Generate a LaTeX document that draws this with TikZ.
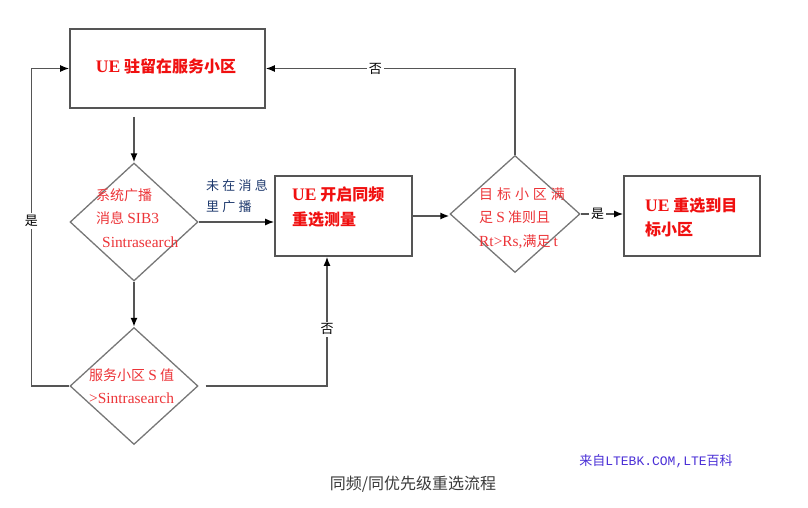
\documentclass[tikz,border=0pt]{standalone}
\usepackage{fontspec}
\setmainfont{Liberation Serif}[Scale=1.1]
\newfontfamily\cjk{Noto Sans CJK SC}
\newfontfamily\halfmono{Liberation Mono}
\usetikzlibrary{shapes.geometric,arrows.meta,positioning,calc}
\definecolor{ink}{HTML}{555555}
\definecolor{edge}{HTML}{777777}
\definecolor{hot}{HTML}{F01010}
\definecolor{warm}{HTML}{EC3438}
\definecolor{navy}{HTML}{1F3A6E}
\definecolor{mark}{HTML}{4A2FD6}
\definecolor{cap}{HTML}{3A3A3A}

\begin{document}
\begin{tikzpicture}[
  x=1pt, y=-1pt, font=\cjk,
  proc/.style={rectangle, draw=ink, line width=1.6pt, inner sep=0pt},
  decide/.style={diamond, draw=edge, line width=1.3pt, inner sep=0pt},
  boxtxt/.style={text=hot, font=\cjk\bfseries\fontsize{16}{25}\selectfont, align=left, inner sep=0pt},
  dectxt/.style={text=warm, font=\cjk\fontsize{14}{23.5}\selectfont, align=left, inner sep=0pt},
  flow/.style={-{Latex[length=9pt,width=7pt,color=black]}, draw=ink, line width=1.5pt},
  lbl/.style={font=\cjk\fontsize{13}{16}\selectfont, fill=white, inner sep=2pt, text=black},
]
\useasboundingbox (0,0) rectangle (808,508);

% ---- process boxes ----
\node[proc, minimum width=195pt, minimum height=79pt] (camp) at (167.5,68.5) {};
\node[proc, minimum width=137pt, minimum height=80pt] (meas) at (343.5,216) {};
\node[proc, minimum width=136pt, minimum height=80pt] (target) at (692,216) {};

% ---- decisions (diamonds) ----
\node[decide, minimum width=128pt, minimum height=118pt] (sib) at (134,222) {};
\node[decide, minimum width=128pt, minimum height=117pt] (srv) at (134,386) {};
\node[decide, minimum width=130pt, minimum height=117pt] (crit) at (515,214) {};

% ---- texts ----
\node[boxtxt] (camptxt) at (166,66) {{\rmfamily UE} 驻留在服务小区};
\node[boxtxt, anchor=west] (meastxt) at (292,207) {{\rmfamily UE} 开启同频\\重选测量};
\node[boxtxt, anchor=west, font=\cjk\bfseries\fontsize{16}{24}\selectfont] (targettxt) at (645,217) {{\rmfamily UE} 重选到目\\标小区};
\node[dectxt, anchor=west] (sibtxt) at (96,218) {系统广播\\消息 {\rmfamily SIB3}\\\hspace*{6pt}{\rmfamily Sintrasearch}};
\node[dectxt, anchor=west] (srvtxt) at (89,386) {服务小区 {\rmfamily S} 值\\{\rmfamily >Sintrasearch}};
\node[dectxt, anchor=west] (crittxt) at (479,218) {{\addfontfeatures{LetterSpace=28}目标小区满}\\足 {\rmfamily S} 准则且\\{\rmfamily Rt>Rs,}满足 {\rmfamily t}};

% ---- connectors ----
\draw[flow, shorten <=8pt] (camp.south -| sib.north) -- (sib.north);
\draw[flow] (sib.east) -- node[anchor=south west, xshift=-31pt, yshift=9pt, inner sep=0pt, align=left, text=navy,
  font=\cjk\fontsize{13}{21}\selectfont\addfontfeatures{LetterSpace=25}] (notbc) {未在消息\\里广播} (sib.east -| meas.west);
\draw[flow] (meas.east) -- (meas.east -| crit.west);
\draw[flow] (crit.east) -- node[lbl, pos=0.4] (yes2) {是} (crit.east -| target.west);
\draw[flow] (crit.north) |- node[lbl, pos=0.78] (no1) {否} (camp.east);
\draw[flow] (sib.south) -- (srv.north);
\draw[flow] (srv.west) -- ++(-38,0) |- node[lbl, pos=0.26] (yes1) {是} (camp.west);
\draw[flow, shorten <=7pt] (srv.east) -| node[lbl, pos=0.72] (no2) {否} ($(meas.south)+(-16.5,0)$);

% ---- caption and source ----
\node[text=cap, font=\cjk\fontsize{16}{18}\selectfont] (caption) at (413,484) {同频/同优先级重选流程};
\node[text=mark, font=\cjk\fontsize{13}{16}\selectfont] (source) at (656,461) {来自{\halfmono LTEBK.COM,LTE}百科};
\end{tikzpicture}
\end{document}
